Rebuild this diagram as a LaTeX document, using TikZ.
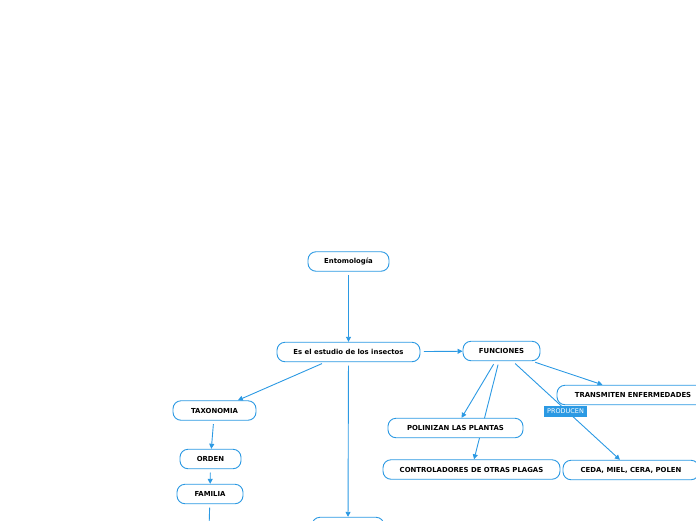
\documentclass[tikz,border=0pt]{standalone}
\usepackage{fontspec}
\setmainfont{DejaVu Sans}
\usetikzlibrary{arrows.meta, backgrounds}
\definecolor{cMapa}{HTML}{2B99E3}

\begin{document}
\begin{tikzpicture}[
    x=1pt, y=-1pt,
    caja/.style={draw=cMapa, line width=0.9pt, rounded corners=8pt, fill=white,
                 minimum height=19.5pt, inner sep=0pt,
                 font=\bfseries\fontsize{6.9}{8}\selectfont},
    con/.style={-{Triangle[length=5pt, width=5pt]}, line width=0.9pt, cMapa,
                shorten <=3.5pt},
    lin/.style={line width=0.9pt, cMapa, shorten <=3.5pt},
    rot/.style={fill=cMapa, text=white, inner xsep=3pt, inner ysep=1.5pt,
                minimum height=11pt, font=\fontsize{6.5}{7}\selectfont},
]
\useasboundingbox (0,0) rectangle (696,520);

% ===================== Nodos =====================
\node[caja, minimum width=81pt]  (ento)    at (348.5,261.5) {Entomología};
\node[caja, minimum width=143pt] (estudio) at (348.5,352)   {Es el estudio de los insectos};
\node[caja, minimum width=77pt]  (func)    at (501.5,351)   {FUNCIONES};

\node[caja, minimum width=83pt]  (taxo)    at (214.5,410.5) {TAXONOMIA};
\node[caja, minimum width=61pt]  (orden)   at (210.5,459)   {ORDEN};
\node[caja, minimum width=66pt]  (familia) at (210,494)     {FAMILIA};
\coordinate (abajo) at (209,530);

% nodo cortado por el borde inferior
\node[caja, minimum width=72pt]  (otro)    at (348,527)     {};

\node[caja, minimum width=135pt] (poli)    at (455.5,428)   {POLINIZAN LAS PLANTAS};
\node[caja, minimum width=177pt] (control) at (471.5,469.5) {CONTROLADORES DE OTRAS PLAGAS};
\node[caja, minimum width=152pt] (transm)  at (633,395)     {TRANSMITEN ENFERMEDADES};
\node[caja, minimum width=136pt] (ceda)    at (631,470)     {CEDA, MIEL, CERA, POLEN};

% ===================== Conectores =====================
% detras de las cajas: el de control pasa por debajo de poli
\begin{pgfonlayer}{background}
\draw[con] (ento) -- (estudio);
\draw[con] (estudio) -- (func);
\draw[con] (estudio) -- (taxo);
\draw[con] (estudio) -- (otro);
\draw[con] (taxo) -- (orden);
\draw[con] (orden) -- (familia);
\draw[lin] (familia) -- (abajo);

\draw[con] (func) -- (poli);
\draw[con] (func) -- (control);
\draw[con] (func) -- (transm);
\draw[con] (func) -- (ceda);
\end{pgfonlayer}

% rotulo sobre el conector hacia ceda
\node[rot] (producen) at (565.5,411.5) {PRODUCEN};

\end{tikzpicture}
\end{document}
